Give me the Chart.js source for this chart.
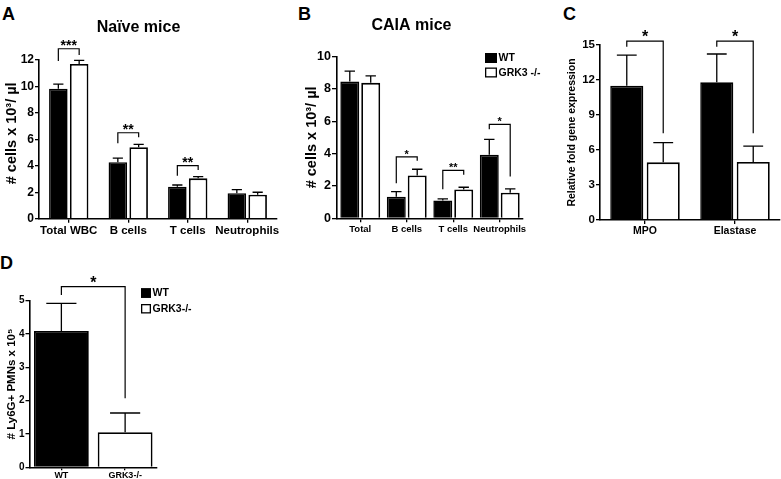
<!DOCTYPE html>
<html><head><meta charset="utf-8">
<script src="https://cdn.jsdelivr.net/npm/chart.js@4"></script>
<style>
html,body{margin:0;padding:0;background:#fff;}
#wrap{position:relative;width:781px;height:479px;overflow:hidden;background:#fff;}
canvas{position:absolute;}
.lt{position:absolute;font:bold 18px "Liberation Sans",Arial,sans-serif;color:#000;line-height:18px;}
</style></head><body>
<div id="wrap">
<div class="lt" style="left:2px;top:5px">A</div>
<div class="lt" style="left:298px;top:5px">B</div>
<div class="lt" style="left:563px;top:5px">C</div>
<div class="lt" style="left:0px;top:254px">D</div>
<canvas id="cA"></canvas>
<canvas id="cB"></canvas>
<canvas id="cC"></canvas>
<canvas id="cD"></canvas>
</div>
<script>
// ---------- DATA ----------
// Panel A – naive mice
const catsA = ['Total WBC', 'B cells', 'T cells', 'Neutrophils'];
const naiveWT = [9.83, 4.27, 2.42, 1.93];
const naiveWTerr = [10.18, 4.58, 2.55, 2.2];
const naiveKO = [11.7, 5.41, 3.05, 1.82];
const naiveKOerr = [11.97, 5.62, 3.18, 2.0];
const ticksA = [0, 2, 4, 6, 8, 10, 12];
const sigA = [[0, 12.85, 11.93, 12.38, '***'], [1, 6.5, 5.7, 6.16, '**'], [2, 4.01, 3.25, 3.68, '**']];

// Panel B – CAIA mice
const catsB = ['Total', 'B cells', 'T cells', 'Neutrophils'];
const caiaWT = [8.45, 1.33, 1.1, 3.92];
const caiaWTerr = [9.1, 1.65, 1.2, 4.88];
const caiaKO = [8.37, 2.65, 1.78, 1.58];
const caiaKOerr = [8.8, 3.03, 1.92, 1.82];
const ticksB = [0, 2, 4, 6, 8, 10];
const sigB = [[1, 3.8, 2.17, 3.56, '*'], [2, 2.96, 1.79, 2.69, '**'], [3, 5.8, 5.5, 2.58, '*']];

// Panel C – relative fold gene expression
const catsC = ['MPO', 'Elastase'];
const foldWT = [11.5, 11.8];
const foldWTerr = [14.14, 14.23];
const foldKO = [4.94, 4.97];
const foldKOerr = [6.63, 6.34];
const ticksC = [0, 3, 6, 9, 12, 15];
const sigC = [[0, 15.34, 14.85, 7.43, '*'], [1, 15.34, 14.85, 7.43, '*']];

// Panel D – Ly6G+ PMNs
const catsD = ['WT', 'GRK3-/-'];
const ly6g = [4.09, 1.05];
const ly6gErr = [4.92, 1.63];
const ticksD = [0, 1, 2, 3, 4, 5];
const sigD = [[0, 5.42, 5.17, 2.07, '*']];

const seriesNames = ['WT', 'GRK3 -/-'];
const seriesNamesD = ['WT', 'GRK3-/-'];

// ---------- RENDERING ----------
const FONT = '"Liberation Sans", Arial, Helvetica, sans-serif';

const extras = {
  id: 'extras',
  afterDatasetsDraw(chart, args, o) {
    const ctx = chart.ctx, ys = chart.scales.y;
    ctx.save();
    ctx.strokeStyle = '#000'; ctx.fillStyle = '#000';
    // error bars (upper SEM)
    (o.errors || []).forEach((arr, di) => {
      const meta = chart.getDatasetMeta(di);
      meta.data.forEach((bar, i) => {
        const v = arr[i];
        if (v == null) return;
        const t = ys.getPixelForValue(v);
        const half = bar.width * o.cap / 2;
        ctx.lineWidth = 1.3;
        ctx.beginPath();
        ctx.moveTo(bar.x, bar.y); ctx.lineTo(bar.x, t);
        ctx.moveTo(bar.x - half, t); ctx.lineTo(bar.x + half, t);
        ctx.stroke();
      });
    });
    // significance brackets
    (o.sig || []).forEach(s => {
      const [i, top, le, re, label] = s;
      let x1, x2;
      if (o.pairMode === 'categories') {
        const m = chart.getDatasetMeta(0);
        x1 = m.data[i].x; x2 = m.data[i + 1].x;
      } else {
        x1 = chart.getDatasetMeta(0).data[i].x;
        x2 = chart.getDatasetMeta(1).data[i].x;
      }
      const yt = ys.getPixelForValue(top);
      ctx.lineWidth = 1.2;
      ctx.beginPath();
      ctx.moveTo(x1, ys.getPixelForValue(le));
      ctx.lineTo(x1, yt); ctx.lineTo(x2, yt);
      ctx.lineTo(x2, ys.getPixelForValue(re));
      ctx.stroke();
      ctx.font = 'bold ' + o.starSize + 'px ' + FONT;
      ctx.textAlign = 'center'; ctx.textBaseline = 'alphabetic';
      ctx.fillText(label, (x1 + x2) / 2, yt + o.starDy);
    });
    // legend
    if (o.legend) {
      const L = o.legend;
      ctx.font = 'bold ' + L.size + 'px ' + FONT;
      ctx.textAlign = 'left'; ctx.textBaseline = 'middle';
      L.labels.forEach((txt, k) => {
        const yy = L.y + k * L.step;
        ctx.fillStyle = L.fills[k];
        ctx.fillRect(L.x, yy, L.w, L.h);
        ctx.lineWidth = 1.3; ctx.strokeStyle = '#000';
        ctx.strokeRect(L.x + 0.65, yy + 0.65, L.w - 1.3, L.h - 1.3);
        ctx.fillStyle = '#000';
        ctx.fillText(txt, L.x + L.w + 1.5, yy + L.h / 2 + 0.5);
      });
    }
    ctx.restore();
  }
};
Chart.register(extras);

function makePanel(id, cfg) {
  const cv = document.getElementById(id);
  const box = cfg.canvas, area = cfg.area;
  cv.width = box.width; cv.height = box.height;
  Object.assign(cv.style, {left: box.left + 'px', top: box.top + 'px', width: box.width + 'px', height: box.height + 'px'});
  const yW = area.l - box.left;
  const xH = box.top + box.height - area.b;
  const padRight = box.left + box.width - area.r;
  const topSpace = area.t - box.top;
  let padTop = topSpace, title = {display: false};
  if (cfg.title) {
    const lh = cfg.title.size * 1.2;
    const pt = cfg.title.y - box.top - lh / 2;
    title = {display: true, text: cfg.title.text, color: '#000', align: 'center',
      font: {family: FONT, size: cfg.title.size, weight: 'bold'},
      padding: {top: pt, bottom: topSpace - pt - lh}};
    padTop = 0;
  }
  const yt = cfg.yTitle;
  const ext = Object.assign({}, cfg.extras);
  if (ext.legend) { ext.legend = Object.assign({}, ext.legend, {x: ext.legend.x - box.left, y: ext.legend.y - box.top}); }
  return new Chart(cv, {
    type: 'bar',
    data: {labels: cfg.labels, datasets: cfg.datasets},
    options: {
      responsive: false, animation: false, devicePixelRatio: 1,
      layout: {padding: {left: 0, right: padRight, top: padTop, bottom: 0}},
      datasets: {bar: {categoryPercentage: cfg.catPct, barPercentage: cfg.barPct}},
      plugins: {legend: {display: false}, tooltip: {enabled: false}, title: title, extras: ext},
      scales: {
        x: {
          type: 'category', offset: true,
          afterFit: s => { s.height = xH; },
          grid: {display: true, drawOnChartArea: false, drawTicks: true, tickLength: cfg.xTickLen, offset: false, color: '#000', lineWidth: 1.3},
          border: {display: true, color: '#000', width: 1.6},
          ticks: {color: '#000', font: {family: FONT, size: cfg.xFont, weight: 'bold'}, padding: cfg.xPad, autoSkip: false, maxRotation: 0, minRotation: 0}
        },
        y: {
          min: cfg.yTicks[0], max: cfg.yTicks[cfg.yTicks.length - 1],
          afterBuildTicks: s => { s.ticks = cfg.yTicks.map(v => ({value: v})); },
          afterFit: s => { s.width = yW; },
          grid: {display: true, drawOnChartArea: false, drawTicks: true, tickLength: cfg.yTickLen, color: '#000', lineWidth: 1.3},
          border: {display: true, color: '#000', width: 1.6},
          ticks: {color: '#000', font: {family: FONT, size: cfg.yFont, weight: 'bold'}, padding: 1},
          title: {display: true, text: yt.text, color: '#000',
            font: {family: FONT, size: yt.size, weight: 'bold'},
            padding: {top: yt.x - box.left - yt.size * 0.6, bottom: 0}}
        }
      }
    }
  });
}

function pairSets(wt, ko, names) {
  return [
    {label: names[0], data: wt, backgroundColor: '#000', borderColor: '#000', borderWidth: 1.6},
    {label: names[1], data: ko, backgroundColor: '#fff', borderColor: '#000', borderWidth: 1.8}
  ];
}

makePanel('cA', {
  canvas: {left: 0, top: 0, width: 330, height: 250},
  area: {l: 39, r: 277, t: 60, b: 218.7},
  title: {text: 'Naïve mice', size: 16, y: 28},
  labels: catsA, datasets: pairSets(naiveWT, naiveKO, seriesNames),
  catPct: 0.70, barPct: 0.89,
  yTicks: ticksA, yFont: 12, yTickLen: 4,
  xFont: 11.5, xTickLen: 4, xPad: 1,
  yTitle: {text: '   # cells x 10³/ µl', size: 14.5, x: 12},
  extras: {errors: [naiveWTerr, naiveKOerr], cap: 0.55, sig: sigA, starSize: 14, starDy: 1}
});

makePanel('cB', {
  canvas: {left: 300, top: 0, width: 280, height: 250},
  area: {l: 337, r: 523, t: 56.5, b: 218.3},
  title: {text: 'CAIA mice', size: 16, y: 26},
  labels: catsB, datasets: pairSets(caiaWT, caiaKO, seriesNames),
  catPct: 0.90, barPct: 0.905,
  yTicks: ticksB, yFont: 12.5, yTickLen: 5,
  xFont: 9.5, xTickLen: 4, xPad: 1,
  yTitle: {text: '# cells x 10³/ µl', size: 14.5, x: 311.7},
  extras: {errors: [caiaWTerr, caiaKOerr], cap: 0.55, sig: sigB, starSize: 11, starDy: 1,
    legend: {x: 485, y: 53, w: 12, h: 10, step: 14.5, size: 10.5, labels: seriesNames, fills: ['#000', '#fff']}}
});

makePanel('cC', {
  canvas: {left: 545, top: 0, width: 236, height: 250},
  area: {l: 600, r: 780, t: 45, b: 220},
  labels: catsC, datasets: pairSets(foldWT, foldKO, seriesNames),
  catPct: 0.81, barPct: 0.907,
  yTicks: ticksC, yFont: 11.5, yTickLen: 4,
  xFont: 10.5, xTickLen: 4, xPad: 1,
  yTitle: {text: 'Relative fold gene expression', size: 10.5, x: 572},
  extras: {errors: [foldWTerr, foldKOerr], cap: 0.6, sig: sigC, starSize: 16, starDy: 1}
});

makePanel('cD', {
  canvas: {left: 0, top: 255, width: 260, height: 224},
  area: {l: 29.5, r: 157, t: 300.7, b: 467.3},
  labels: catsD,
  datasets: [{label: 'Ly6G+ PMNs', data: ly6g, backgroundColor: ['#000', '#fff'], borderColor: '#000', borderWidth: 1.8}],
  catPct: 0.86, barPct: 1.0,
  yTicks: ticksD, yFont: 10, yTickLen: 4,
  xFont: 9, xTickLen: 3, xPad: 0,
  yTitle: {text: '# Ly6G+ PMNs x 10⁵', size: 11.5, x: 12},
  extras: {errors: [ly6gErr], cap: 0.55, sig: sigD, pairMode: 'categories', starSize: 16, starDy: 1,
    legend: {x: 141, y: 288.3, w: 10, h: 9.5, step: 15.7, size: 10.5, labels: seriesNamesD, fills: ['#000', '#fff']}}
});
</script>
</body></html>
